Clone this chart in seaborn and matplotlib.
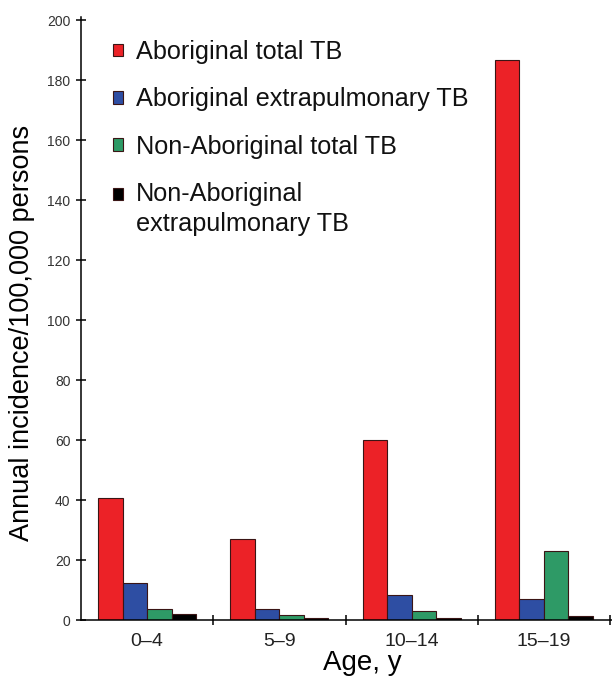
import pandas as pd
import numpy as np
import matplotlib
matplotlib.use("Agg")
import matplotlib.pyplot as plt
from matplotlib.ticker import FixedLocator
import seaborn as sns

# values
age_groups = ['0\u20134', '5\u20139', '10\u201314', '15\u201319']
series = ['Aboriginal total TB', 'Aboriginal extrapulmonary TB',
          'Non-Aboriginal total TB', 'Non-Aboriginal\nextrapulmonary TB']
abor_total = [40.7, 27.1, 60.1, 186.6]
abor_extra = [12.4, 3.7, 8.3, 6.9]
nonabor_total = [3.7, 1.8, 2.9, 23.0]
nonabor_extra = [1.9, 0.7, 0.8, 1.4]
colors = ['#ec2227', '#2e4ea3', '#2e9a66', '#000000']

df = pd.DataFrame({'age': age_groups * 4,
                   'series': np.repeat(series, 4),
                   'rate': abor_total + abor_extra + nonabor_total + nonabor_extra})

sns.set_style("ticks")
plt.rcParams['font.family'] = ['Liberation Sans', 'DejaVu Sans']
plt.rcParams['text.color'] = 'black'
plt.rcParams['axes.labelcolor'] = 'black'

fig = plt.figure(figsize=(6.12, 6.8), dpi=100)
ax = fig.add_axes([81/612, 60/680, 531/612, 603/680])

sns.barplot(data=df, x='age', y='rate', hue='series', order=age_groups,
            hue_order=series, palette=colors, saturation=1, width=0.74, gap=0,
            edgecolor='#3a1515', linewidth=0.8, ax=ax, legend=True)

ax.set_xlim(-0.5, 3.515)
ax.set_ylim(0, 201)
ax.set_yticks(range(0, 201, 20))
ax.tick_params(axis='y', direction='inout', length=7, width=1.1,
               labelsize=10, labelcolor='#333333', pad=4, color='black')
ax.tick_params(axis='x', which='major', length=0, labelsize=14, pad=9,
               labelcolor='#222222')
ax.xaxis.set_minor_locator(FixedLocator([0.5, 1.5, 2.5, 3.5]))
ax.tick_params(axis='x', which='minor', direction='inout', length=7, width=1.1,
               color='black')
for s in ['top', 'right']:
    ax.spines[s].set_visible(False)
for s in ['left', 'bottom']:
    ax.spines[s].set_linewidth(1.1)
    ax.spines[s].set_color('black')

ax.set_ylabel('Annual incidence/100,000 persons', fontsize=19.5)
ax.yaxis.set_label_coords(-0.112, 0.476)
ax.yaxis.label.set_va('center')
ax.set_xlabel('Age, y', fontsize=20)
ax.xaxis.set_label_coords(0.529, -0.071)
ax.xaxis.label.set_va('center')

handles, labels = ax.get_legend_handles_labels()
leg = ax.legend(handles, labels, loc='upper left', bbox_to_anchor=(113/612, 1 - 40/680),
                bbox_transform=fig.transFigure, frameon=False, fontsize=18.2,
                handlelength=0.4, handleheight=0.4, handletextpad=0.5,
                labelspacing=0.92, borderpad=0, borderaxespad=0)
for t in leg.get_texts():
    t.set_linespacing(1.33)
    t.set_color('#111111')
# the two-line entry has its swatch beside the first line
last = leg.legend_handles[-1]
last.set_y(last.get_y() + 11)

fig.savefig('out.png', dpi=100)
